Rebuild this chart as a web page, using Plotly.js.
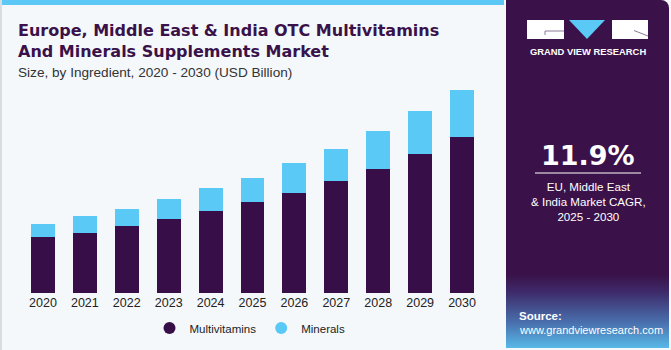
<!DOCTYPE html>
<html><head><meta charset="utf-8">
<script src="https://cdn.plot.ly/plotly-3.0.1.min.js"></script>
<style>
html,body{margin:0;padding:0;width:671px;height:350px;overflow:hidden;background:#f4f8fb;font-family:"Liberation Sans",Arial,sans-serif;}
#wrap{position:relative;width:671px;height:350px;}
#topbar{position:absolute;left:0;top:0;width:504px;height:5px;background:#5bc8f5;}
#leftline{position:absolute;left:0;top:0;width:2px;height:350px;background:#d8dde2;}
#panel{position:absolute;left:506px;top:0;width:163px;height:348px;border-top-right-radius:8px;
 background:linear-gradient(to bottom,#3a1249 0%,#3a1249 79%,#3e2b6b 84%,#4a72b0 93%,#58b9e8 100%);}
#chart{position:absolute;left:0;top:0;width:671px;height:350px;}
</style></head>
<body><div id="wrap">
<div id="topbar"></div><div id="leftline"></div>
<div id="panel"></div>
<div id="chart"></div>
</div>
<script>
const years = ['2020','2021','2022','2023','2024','2025','2026','2027','2028','2029','2030'];
const multivitamins = [5.67,6.08,6.75,7.50,8.31,9.18,10.16,11.35,12.56,14.11,15.80];
const minerals = [1.32,1.68,1.76,2.05,2.29,2.53,2.97,3.27,3.88,4.36,4.80];
const seriesNames = ['Multivitamins','Minerals'];
const colors = ['#380e48','#5bc9f5'];
const calloutYear = '2024';
const calloutText = '$10.6B';
const cagr = '11.9%';

const totalAt = years.indexOf(calloutYear);
const calloutTotal = multivitamins[totalAt] + minerals[totalAt];

// pixel -> paper helpers (plot area: x 22..483, y 76..293)
const L=22, R=483, T=76, B=293;
const px = p => (p-L)/(R-L);
const py = p => (B-p)/(B-T);
const DK = '#3a1249';

const traces = [
 {type:'bar',x:years,y:multivitamins,name:seriesNames[0],marker:{color:colors[0],line:{width:0}},showlegend:false},
 {type:'bar',x:years,y:minerals,name:seriesNames[1],marker:{color:colors[1],line:{width:0}},showlegend:false},
 {type:'scatter',mode:'markers',x:[years[0]],y:[-100],name:seriesNames[0],marker:{color:colors[0],symbol:'circle',size:12}},
 {type:'scatter',mode:'markers',x:[years[0]],y:[-100],name:seriesNames[1],marker:{color:colors[1],symbol:'circle',size:12}}
];

const T0 = 'rgba(0,0,0,0)';
const layout = {
 width:671,height:350,
 paper_bgcolor:T0,plot_bgcolor:T0,
 margin:{l:L,r:671-R,t:T,b:350-B},
 barmode:'stack',bargap:0.43,
 font:{family:'"Liberation Sans", Arial, sans-serif',color:'#222'},
 xaxis:{type:'category',categoryorder:'array',categoryarray:years,range:[-0.5,years.length-0.5],fixedrange:true,
   showgrid:false,zeroline:false,showline:false,ticks:'',tickfont:{size:12.5,color:'#222'}},
 yaxis:{range:[0,22],visible:false,showgrid:false,zeroline:false},
 showlegend:true,
 legend:{orientation:'h',xref:'container',yref:'container',x:250/671,xanchor:'center',y:1-328/350,yanchor:'middle',
   font:{size:11.5,color:'#222'},traceorder:'normal',bgcolor:T0},
 annotations:[
  {xref:'x',yref:'y',x:calloutYear,y:calloutTotal,text:calloutText,showarrow:false,yanchor:'bottom',yshift:6,font:{size:13.5,color:'#222'}},
  {xref:'paper',yref:'paper',x:px(16),y:py(41),xanchor:'left',yanchor:'middle',align:'left',showarrow:false,
   text:'<b>Europe, Middle East &amp; India OTC Multivitamins<br>And Minerals Supplements Market</b>',
   font:{family:'"DejaVu Sans", Arial, sans-serif',size:16,color:DK}},
  {xref:'paper',yref:'paper',x:px(16),y:py(72.5),xanchor:'left',yanchor:'middle',showarrow:false,
   text:'Size, by Ingredient, 2020 - 2030 (USD Billion)',font:{size:13.6,color:'#333'}},
  {xref:'paper',yref:'paper',x:px(587.5),y:py(51.5),xanchor:'center',yanchor:'middle',showarrow:false,
   text:'<b>GRAND VIEW RESEARCH</b>',font:{size:9.4,color:'#fff'}},
  {xref:'paper',yref:'paper',x:px(588),y:py(155),xanchor:'center',yanchor:'middle',showarrow:false,
   text:'<b>'+cagr+'</b>',font:{family:'"DejaVu Sans", Arial, sans-serif',size:27,color:'#fff'}},
  {xref:'paper',yref:'paper',x:px(588),y:py(201),xanchor:'center',yanchor:'middle',showarrow:false,
   text:'EU, Middle East<br>&amp; India Market CAGR,<br>2025 - 2030',font:{size:11.6,color:'#fff'}},
  {xref:'paper',yref:'paper',x:px(517),y:py(315.5),xanchor:'left',yanchor:'middle',showarrow:false,
   text:'<b>Source:</b>',font:{size:11.5,color:'#fff'}},
  {xref:'paper',yref:'paper',x:px(517),y:py(330),xanchor:'left',yanchor:'middle',showarrow:false,
   text:'www.grandviewresearch.com',font:{size:11,color:'#fff'}}
 ],
 shapes:[
  {type:'rect',xref:'paper',yref:'paper',x0:px(527),x1:px(564),y0:py(39),y1:py(20),fillcolor:'#fff',line:{width:0}},
  {type:'path',xref:'paper',yref:'paper',path:'M '+px(545)+' '+py(35)+' L '+px(545)+' '+py(31)+' L '+px(564)+' '+py(31),line:{color:'#8a7a96',width:1}},
  {type:'path',xref:'paper',yref:'paper',path:'M '+px(569)+' '+py(20)+' L '+px(605)+' '+py(20)+' L '+px(587)+' '+py(39)+' Z',fillcolor:'#5bc9f5',line:{width:0}},
  {type:'rect',xref:'paper',yref:'paper',x0:px(612),x1:px(648),y0:py(39),y1:py(20),fillcolor:'#fff',line:{width:0}},
  {type:'path',xref:'paper',yref:'paper',path:'M '+px(634)+' '+py(30.5)+' L '+px(648)+' '+py(36),line:{color:'#8a7a96',width:1}},
  {type:'line',xref:'paper',yref:'paper',x0:px(535),x1:px(641),y0:py(173),y1:py(173),line:{color:'#fff',width:1}}
 ]
};
Plotly.newPlot('chart',traces,layout,{displayModeBar:false,staticPlot:true});
</script></body></html>
